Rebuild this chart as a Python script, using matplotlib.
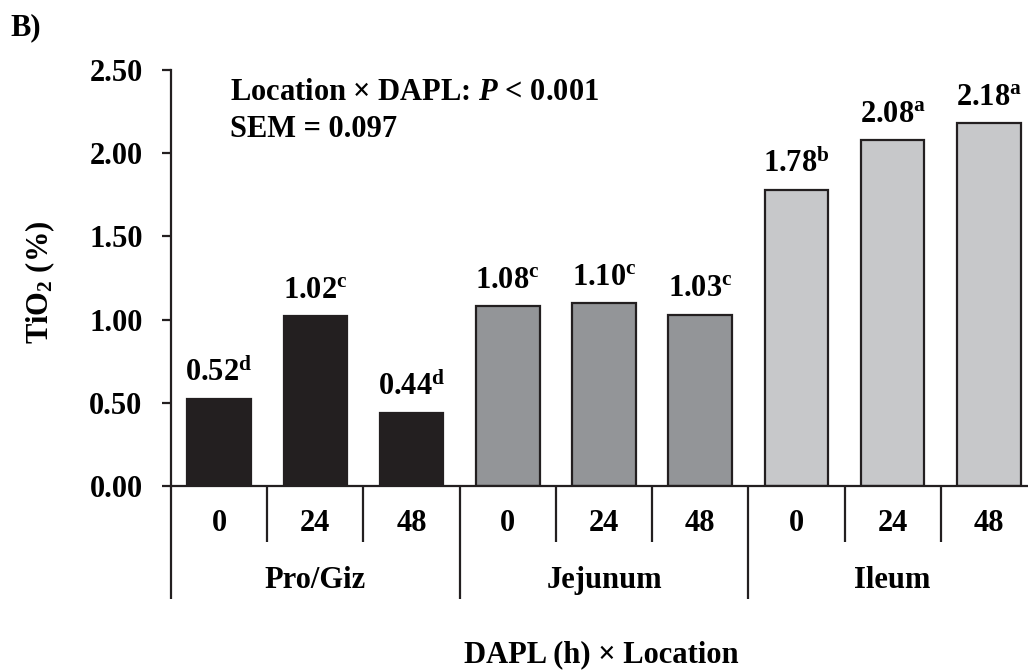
import numpy as np
import matplotlib
matplotlib.use("Agg")
import matplotlib.pyplot as plt
import matplotlib.transforms as mtransforms

# fonte serifada em negrito, como no original
plt.rcParams['font.family'] = ['Liberation Serif', 'DejaVu Serif']
plt.rcParams['font.weight'] = 'bold'
plt.rcParams['mathtext.fontset'] = 'custom'
plt.rcParams['mathtext.rm'] = 'Liberation Serif:bold'
plt.rcParams['mathtext.bf'] = 'Liberation Serif:bold'
plt.rcParams['mathtext.it'] = 'Liberation Serif:italic:bold'

# Dados
locations = ['Pro/Giz', 'Jejunum', 'Ileum']
dapl = ['0', '24', '48']
tio2 = [0.52, 1.02, 0.44, 1.08, 1.10, 1.03, 1.78, 2.08, 2.18]
letters = ['d', 'c', 'd', 'c', 'c', 'c', 'b', 'a', 'a']
yticks = [0.0, 0.5, 1.0, 1.5, 2.0, 2.5]
cores = ['#231f20', '#939598', '#c7c8ca']

FS = 22
W, H = 1028, 670
fig = plt.figure(figsize=(W / 100, H / 100), dpi=100)
ax = fig.add_axes([171 / W, 184 / H, 866 / W, 416 / H])

n = len(tio2)
x = np.arange(n)
bar_colors = [cores[i // 3] for i in range(n)]
ax.bar(x, tio2, width=0.66, color=bar_colors, edgecolor='#231f20', linewidth=1.6, zorder=2)

for xi, v, l in zip(x, tio2, letters):
    ax.annotate(f"{v:.2f}$^{{\\mathrm{{{l}}}}}$", (xi, v), xytext=(0, 8), textcoords='offset points',
                ha='center', va='bottom', fontsize=FS, fontweight='bold')

ax.set_xlim(-0.5, n - 0.5)
ax.set_ylim(0, 2.5)
ax.set_yticks(yticks)
ax.set_yticklabels([f"{t:.2f}" for t in yticks], fontsize=FS, fontweight='bold')

# eixo x: separadores curtos e longos em vez de rótulos
ax.set_xticks([0.5, 1.5, 3.5, 4.5, 6.5, 7.5])
ax.set_xticks([-0.5, 2.5, 5.5, 8.5], minor=True)
ax.set_xticklabels([])
ax.tick_params(axis='x', which='major', direction='out', length=40.5, width=1.6, color='#231f20')
ax.tick_params(axis='x', which='minor', direction='out', length=81, width=1.6, color='#231f20')
ax.tick_params(axis='y', direction='out', length=6.5, width=1.6, color='#231f20', pad=14)

for s in ['top', 'right']:
    ax.spines[s].set_visible(False)
for s in ['left', 'bottom']:
    ax.spines[s].set_linewidth(1.6)
    ax.spines[s].set_color('#231f20')

trans = mtransforms.blended_transform_factory(ax.transData, ax.transAxes)
for i in range(n):
    ax.text(i, -0.089, dapl[i % 3], transform=trans, ha='center', va='center', fontsize=FS, fontweight='bold')
for g, loc in enumerate(locations):
    ax.text(g * 3 + 1, -0.226, loc, transform=trans, ha='center', va='center', fontsize=FS, fontweight='bold')

fig.text(601 / W, 1 - 655 / H, 'DAPL (h) × Location', ha='center', va='center', fontsize=FS, fontweight='bold')
fig.text(40 / W, 1 - 282 / H, 'TiO$_{\\mathrm{2}}$ (%)', rotation=90, ha='center', va='center',
         fontsize=FS, fontweight='bold')
fig.text(10 / W, 1 - 28 / H, 'B)', ha='left', va='center', fontsize=FS, fontweight='bold')

fig.text(230 / W, 1 - 100 / H, 'Location × DAPL: $P$ < 0.001', ha='left', va='baseline', fontsize=FS, fontweight='bold')
fig.text(230 / W, 1 - 137 / H, 'SEM = 0.097', ha='left', va='baseline', fontsize=FS, fontweight='bold')

fig.savefig('out.png', dpi=100)
